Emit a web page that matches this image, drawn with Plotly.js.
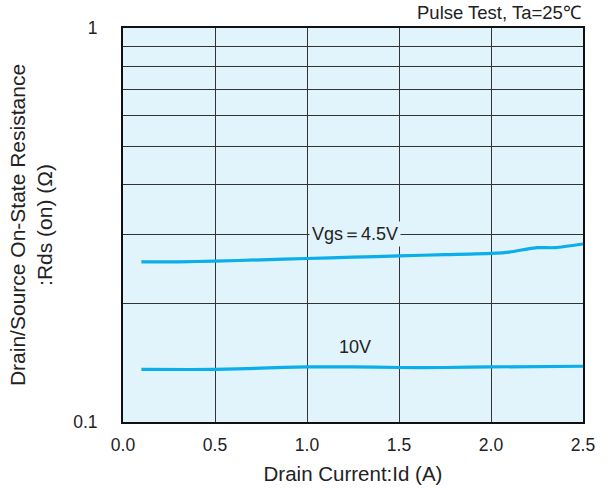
<!DOCTYPE html>
<html>
<head>
<meta charset="utf-8">
<script src="https://cdn.plot.ly/plotly-3.0.1.min.js"></script>
<style>html,body{margin:0;padding:0;background:#fff;}#chart{width:610px;height:495px;}</style>
</head>
<body>
<div id="chart"></div>
<script>
// Data
const idVgs45 = [0.1, 0.3, 0.5, 0.75, 1.0, 1.25, 1.5, 1.75, 2.0, 2.1, 2.2, 2.25, 2.35, 2.5];
const rdsVgs45 = [0.255, 0.255, 0.256, 0.258, 0.260, 0.262, 0.264, 0.266, 0.268, 0.270, 0.275, 0.277, 0.277, 0.283];
const idVgs10 = [0.1, 0.5, 0.75, 1.0, 1.25, 1.5, 1.75, 2.0, 2.5];
const rdsVgs10 = [0.136, 0.136, 0.137, 0.138, 0.138, 0.1375, 0.1375, 0.138, 0.1385];
const yTickVals = [0.1, 0.2, 0.3, 0.4, 0.5, 0.6, 0.7, 0.8, 0.9, 1];
const yTickText = ["0.1", "", "", "", "", "", "", "", "", "1"];
const xTickVals = [0, 0.5, 1.0, 1.5, 2.0, 2.5];
const xTickText = ["0.0", "0.5", "1.0", "1.5", "2.0", "2.5"];
const curveLabels = [
  {text: "Vgs＝4.5V", x: 1.26, y: 0.3},
  {text: "10V", x: 1.26, y: 0.155}
];

const lineStyle = {color: "#0AAEEA", width: 3.2, shape: "spline", smoothing: 0.6};
const traces = [
  {x: idVgs45, y: rdsVgs45, mode: "lines", line: lineStyle, hoverinfo: "skip"},
  {x: idVgs10, y: rdsVgs10, mode: "lines", line: lineStyle, hoverinfo: "skip"}
];

const font = {family: "Liberation Sans, Arial, sans-serif", size: 18, color: "#222"};
const layout = {
  width: 610, height: 495,
  margin: {l: 123, r: 27, t: 28, b: 73},
  paper_bgcolor: "#ffffff",
  plot_bgcolor: "#E1F3FB",
  showlegend: false,
  font: font,
  xaxis: {
    range: [0, 2.5],
    tickvals: xTickVals, ticktext: xTickText,
    ticks: "", ticklabelstandoff: 6,
    showgrid: true, gridcolor: "#333", gridwidth: 1,
    showline: true, mirror: true, linecolor: "#111", linewidth: 2,
    zeroline: false,
    tickfont: {size: 17.5},
    title: {text: "Drain Current:Id (A)", font: {size: 20.5}, standoff: 13}
  },
  yaxis: {
    type: "log", range: [-1, 0],
    tickvals: yTickVals, ticktext: yTickText,
    ticks: "", ticklabelstandoff: 20,
    showgrid: true, gridcolor: "#333", gridwidth: 1,
    showline: true, mirror: true, linecolor: "#111", linewidth: 2,
    zeroline: false,
    tickfont: {size: 17.5},
    title: {text: "Drain/Source On-State Resistance<br>:Rds (on) (Ω)", font: {size: 21}, standoff: 15}
  },
  annotations: curveLabels.map(c => ({
    text: c.text, x: c.x, y: Math.log10(c.y), xref: "x", yref: "y",
    showarrow: false, bgcolor: "#E1F3FB", font: {size: 18}, borderpad: 2
  })).concat([{
    text: "Pulse Test, Ta=25℃", xref: "paper", yref: "paper", x: 1, y: 1,
    xanchor: "right", yanchor: "bottom", yshift: 3, showarrow: false, font: {size: 18.5}
  }])
};

Plotly.newPlot("chart", traces, layout, {staticPlot: true});
</script>
</body>
</html>
